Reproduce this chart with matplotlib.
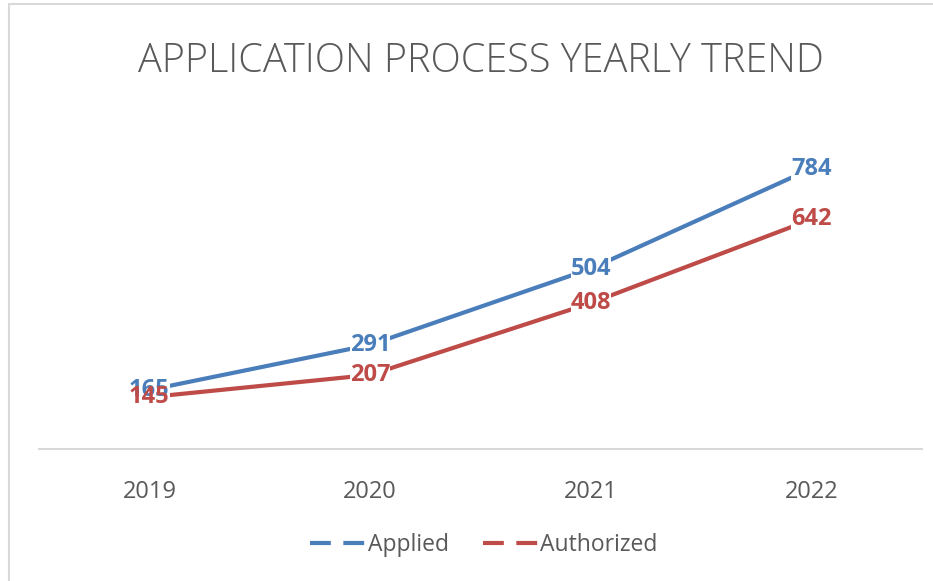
import matplotlib

matplotlib.use("Agg")
import matplotlib.pyplot as plt
from matplotlib.lines import Line2D
from matplotlib.patches import Rectangle

years = ["2019", "2020", "2021", "2022"]
applied = [165, 291, 504, 784]
authorized = [145, 207, 408, 642]

BLUE = "#4A7EBB"
RED = "#BE4B48"
GRAY = "#595959"

plt.rcParams["font.family"] = ["Open Sans", "DejaVu Sans"]

fig = plt.figure(figsize=(9.33, 5.81), dpi=100)
# light chart-area border (right and bottom edges fall outside the picture)
fig.patches.append(Rectangle((9 / 933, -0.1), 1.2, 1.1 - 4 / 581, transform=fig.transFigure,
                             fill=False, edgecolor="#D9D9D9", linewidth=1.5))

ax = fig.add_axes([39 / 933, 132 / 581, 883 / 933, 322 / 581])
x = range(len(years))

ax.plot(x, applied, color=BLUE, linewidth=3, solid_capstyle="round", zorder=2)
ax.plot(x, authorized, color=RED, linewidth=3, solid_capstyle="round", zorder=2)

# data labels sit on the points; a white box hides the line under each label,
# but the boxes stay below all label texts so overlapping labels both show
label_kw = dict(fontsize=17, fontweight="bold", ha="center", va="center")
for series, color, z in [(applied, BLUE, 4), (authorized, RED, 5)]:
    for xi, v in zip(x, series):
        ax.text(xi, v, str(v), color="white", zorder=3,
                bbox=dict(facecolor="white", edgecolor="none", pad=0.0), **label_kw)
        ax.text(xi, v, str(v), color=color, zorder=z, **label_kw)

ax.set_xlim(-0.5, 3.5)
ax.set_ylim(0, 900)
ax.set_xticks(list(x))
ax.set_xticklabels(years, fontsize=17, color=GRAY)
ax.tick_params(axis="x", length=0, pad=22)
ax.set_yticks([])
for side in ["left", "right", "top"]:
    ax.spines[side].set_visible(False)
ax.spines["bottom"].set_color("#D9D9D9")
ax.spines["bottom"].set_linewidth(1.5)

fig.text(481 / 933, 1 - 62 / 581, "APPLICATION PROCESS YEARLY TREND", fontsize=28.5,
         color=GRAY, ha="center", va="center", fontweight="light")

handles = [
    Line2D([], [], color=BLUE, linewidth=3, linestyle=(0, (5, 3))),
    Line2D([], [], color=RED, linewidth=3, linestyle=(0, (5, 3))),
]
fig.legend(handles, ["Applied", "Authorized"], loc="center", bbox_to_anchor=(484 / 933, 1 - 545 / 581),
           ncol=2, frameon=False, fontsize=16.5, labelcolor=GRAY, handlelength=2.4,
           handletextpad=0.1, columnspacing=1.5)

fig.savefig("out.png", dpi=100)
